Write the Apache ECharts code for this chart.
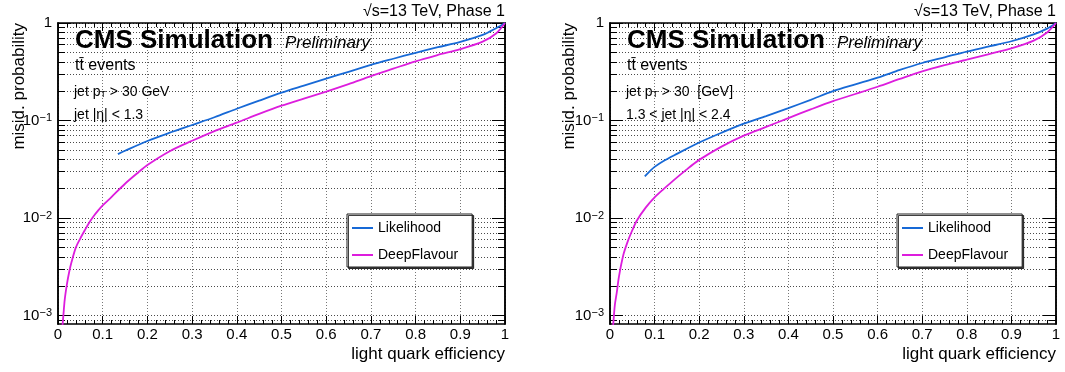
<!DOCTYPE html>
<html><head><meta charset="utf-8">
<script src="https://cdn.jsdelivr.net/npm/echarts@6/dist/echarts.min.js"></script>
<style>html,body{margin:0;padding:0;background:#fff}#c{width:1065px;height:372px}</style>
</head><body><div id="c"></div>
<script>
const FONT = '"Liberation Sans", Arial, Helvetica, sans-serif';
const BLUE = '#1769d6';
const MAGENTA = '#dd1ddd';

// ---- data ----
const seriesNames = ['Likelihood', 'DeepFlavour'];

const leftLikelihoodEff  = [0.134,0.15,0.2,0.25,0.3,0.35,0.4,0.45,0.5,0.55,0.6,0.65,0.7,0.75,0.8,0.85,0.9,0.95,0.98,1.0];
const leftLikelihoodProb = [0.0453,0.049,0.0617,0.075,0.090,0.108,0.132,0.160,0.193,0.228,0.269,0.316,0.372,0.43,0.495,0.565,0.64,0.755,0.885,1.0];

const leftDeepEff  = [0.009,0.012,0.015,0.02,0.025,0.03,0.04,0.05,0.06,0.07,0.08,0.09,0.1,0.12,0.15,0.18,0.2,0.25,0.3,0.35,0.4,0.45,0.5,0.55,0.6,0.65,0.7,0.75,0.8,0.85,0.9,0.95,0.98,1.0];
const leftDeepProb = [0.00070,0.00100,0.00145,0.0021,0.0028,0.0035,0.0050,0.0062,0.0075,0.0090,0.0105,0.0120,0.0135,0.0165,0.0225,0.0295,0.035,0.0485,0.062,0.078,0.095,0.117,0.142,0.168,0.198,0.236,0.285,0.34,0.405,0.47,0.54,0.645,0.78,1.0];

const rightLikelihoodEff  = [0.078,0.09,0.1,0.12,0.15,0.2,0.25,0.3,0.35,0.4,0.45,0.5,0.55,0.6,0.65,0.7,0.75,0.8,0.85,0.9,0.95,0.98,1.0];
const rightLikelihoodProb = [0.0267,0.0305,0.0335,0.0385,0.0455,0.0595,0.075,0.093,0.111,0.134,0.163,0.20,0.235,0.275,0.33,0.389,0.445,0.51,0.575,0.65,0.765,0.875,1.0];

const rightDeepEff  = [0.005,0.008,0.011,0.015,0.02,0.03,0.04,0.05,0.06,0.08,0.1,0.12,0.14,0.17,0.2,0.25,0.3,0.35,0.4,0.45,0.5,0.55,0.6,0.65,0.7,0.75,0.8,0.85,0.9,0.95,0.98,1.0];
const rightDeepProb = [0.0006,0.0009,0.0013,0.0017,0.0025,0.0042,0.0058,0.0075,0.0094,0.0128,0.0163,0.0198,0.0238,0.031,0.0395,0.054,0.070,0.086,0.106,0.130,0.158,0.187,0.222,0.267,0.319,0.37,0.42,0.48,0.55,0.66,0.80,1.0];

// ---- axis ticks ----
const xMin = 0, xMax = 1, xInterval = 0.1;
const yMin = 0.00082, yMax = 1;
const yDecades = [0.001, 0.01, 0.1, 1];
const yMultipliers = [2,3,4,5,6,7,8,9];
const yGridTicks = [];
[0.0001, 0.001, 0.01, 0.1].forEach(d => yMultipliers.forEach(m => {
  const v = +(d * m).toPrecision(6);
  if (v >= yMin && v <= yMax) yGridTicks.push(v);
}));
yDecades.forEach(v => yGridTicks.push(v));
yGridTicks.sort((a, b) => a - b);

// ---- texts ----
const energyText = '√s=13 TeV, Phase 1';
const cmsText = 'CMS Simulation';
const prelimText = 'Preliminary';
const eventsText = 'tt̄ events';
const yTitle = 'misid. probability';
const xTitle = 'light quark efficiency';

const panels = [
  { left: 58, width: 447, lik: [leftLikelihoodEff, leftLikelihoodProb], deep: [leftDeepEff, leftDeepProb],
    pt: 'jet p{sub|T} > 30 GeV', eta: 'jet |η| < 1.3', legendLeft: 347, yTitleX: 19 },
  { left: 610, width: 446, lik: [rightLikelihoodEff, rightLikelihoodProb], deep: [rightDeepEff, rightDeepProb],
    pt: 'jet p{sub|T} > 30  [GeV]', eta: '1.3 < jet |η| < 2.4', legendLeft: 897, yTitleX: 569 }
];
const TOP = 23, HEIGHT = 301;

const zip = (a, b) => a.map((v, i) => [v, b[i]]);
const axisLine = { show: true, onZero: false, lineStyle: { color: '#000', width: 1.5 } };
const gridLineStyle = { color: '#4a4a4a', type: [1, 2], width: 1 };

function xAx(g, pos, main) {
  return {
    type: 'value', gridIndex: g, position: pos, min: xMin, max: xMax, interval: xInterval,
    axisLine,
    axisTick: { show: true, inside: true, length: 8, lineStyle: { color: '#000', width: 1 } },
    minorTick: { show: true, splitNumber: 5, length: 4, lineStyle: { color: '#000', width: 1 } },
    axisLabel: { show: main, margin: 3, fontSize: 15, color: '#000', fontFamily: FONT },
    splitLine: { show: main, lineStyle: { color: '#777', type: [1, 2], width: 1 } }
  };
}
function yFmt(v) {
  const e = Math.round(Math.log10(v));
  return e === 0 ? '{b|1}' : '{b|10}{s|−' + (-e) + '}';
}
function yAx(g, pos, major) {
  const labels = major && pos === 'left';
  return {
    type: 'log', logBase: 10, gridIndex: g, position: pos, min: yMin, max: yMax,
    axisLine,
    axisTick: { show: true, inside: true, length: major ? 13 : 7, customValues: major ? yDecades : yGridTicks,
      lineStyle: { color: '#000', width: 1 } },
    minorTick: { show: false },
    axisLabel: labels ? {
      show: true, customValues: yDecades, margin: 6, formatter: yFmt,
      rich: {
        b: { fontSize: 15, fontFamily: FONT, color: '#000', lineHeight: 16 },
        s: { fontSize: 11, fontFamily: FONT, color: '#000', lineHeight: 8, verticalAlign: 'top' }
      }
    } : { show: false },
    splitLine: { show: !major && pos === 'left', lineStyle: gridLineStyle }
  };
}

const grid = [], xAxis = [], yAxis = [], series = [], legend = [], graphic = [];
panels.forEach((p, g) => {
  grid.push({ left: p.left, top: TOP, width: p.width, height: HEIGHT, containLabel: false });
  xAxis.push(xAx(g, 'bottom', true), xAx(g, 'top', false));
  yAxis.push(yAx(g, 'left', true), yAx(g, 'left', false), yAx(g, 'right', true), yAx(g, 'right', false));
  series.push({
    type: 'line', name: seriesNames[0], xAxisIndex: g * 2, yAxisIndex: g * 4, data: zip(p.lik[0], p.lik[1]),
    showSymbol: false, symbol: 'none', clip: true, silent: true, z: 4, smooth: 0.3,
    lineStyle: { color: BLUE, width: 1.8 }, itemStyle: { color: BLUE }
  }, {
    type: 'line', name: seriesNames[1], xAxisIndex: g * 2, yAxisIndex: g * 4, data: zip(p.deep[0], p.deep[1]),
    showSymbol: false, symbol: 'none', clip: true, silent: true, z: 4, smooth: 0.3,
    lineStyle: { color: MAGENTA, width: 1.8 }, itemStyle: { color: MAGENTA }
  });
  legend.push({
    left: p.legendLeft, top: 214, orient: 'vertical', icon: 'rect', itemWidth: 21, itemHeight: 2, itemGap: 13,
    padding: [7, 14, 5, 5], backgroundColor: '#fff', borderColor: '#222', borderWidth: 1,
    shadowColor: 'rgba(0,0,0,0.75)', shadowOffsetX: 1.5, shadowOffsetY: 1.5, shadowBlur: 0,
    textStyle: { fontSize: 14, fontFamily: FONT, color: '#000' },
    data: seriesNames, selectedMode: false, z: 10
  });
  const L = p.left, R = p.left + p.width;
  const txt = (x, y, text, font, align, extra) => Object.assign({
    type: 'text', x, y, z: 20, silent: true,
    style: Object.assign({ text, font, fill: '#000', align, textAlign: align, verticalAlign: 'middle', textVerticalAlign: 'middle' }, extra || {})
  });
  graphic.push(
    txt(R, 12, energyText, '16px ' + FONT, 'right'),
    txt(L + 17, 41, cmsText, 'bold 26px ' + FONT, 'left'),
    txt(L + 227, 43, prelimText, 'italic 17px ' + FONT, 'left'),
    txt(L + 17, 66, eventsText, '16px ' + FONT, 'left'),
    txt(L + 16, 92, p.pt, '14px ' + FONT, 'left', { rich: { sub: { fontSize: 9, fontFamily: FONT, lineHeight: 2, verticalAlign: 'bottom', fill: '#000' } } }),
    txt(L + 16, 115, p.eta, '14px ' + FONT, 'left'),
    txt(R, 354, xTitle, '17px ' + FONT, 'right'),
    Object.assign(txt(p.yTitleX, TOP, yTitle, '17px ' + FONT, 'right'), { rotation: Math.PI / 2 })
  );
});

const chart = echarts.init(document.getElementById('c'), null, { renderer: 'canvas' });
chart.setOption({ animation: false, backgroundColor: '#fff', grid, xAxis, yAxis, series, legend, graphic });
</script></body></html>
